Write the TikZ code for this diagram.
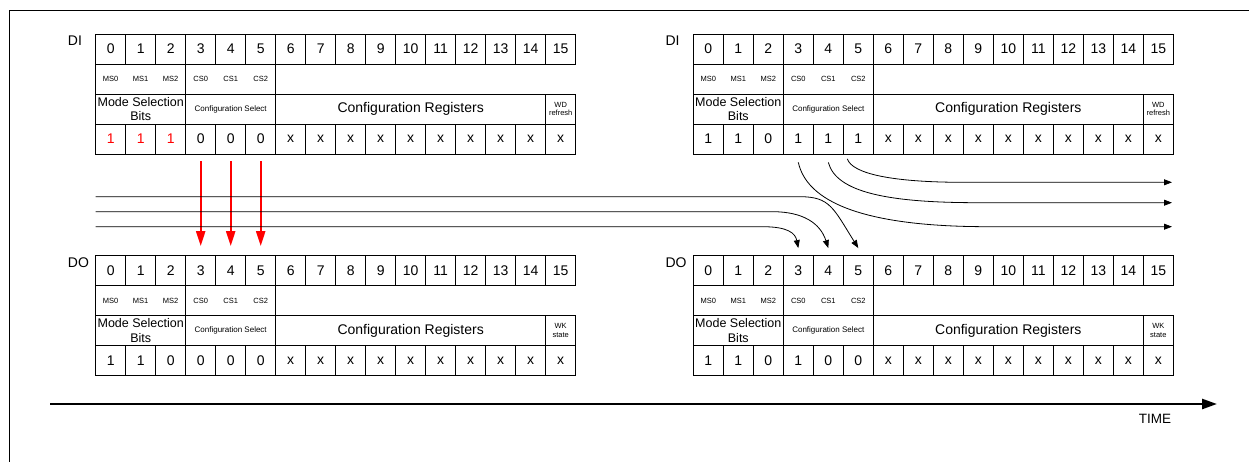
\documentclass[tikz,border=0pt]{standalone}
\usepackage{fontspec}
\setmainfont{Liberation Sans}
\usetikzlibrary{arrows.meta}

% one 16 bit register map: prefix, left x, top y, label, first six values (value/colour), last field
\newcommand{\regmap}[6]{%
  \node[reglabel] (#1-lbl) at (#2-28,#3+7) {#4};
  \foreach \i in {0,...,15}
    \node[bitcell] (#1-n\i) at (#2+30*\i+15,#3+15) {\i};
  \node[fieldbox, minimum width=90pt] (#1-ms) at (#2+45,#3+45) {};
  \node[fieldbox, minimum width=90pt] (#1-cs) at (#2+135,#3+45) {};
  \foreach \lbl [count=\i from 0] in {MS0,MS1,MS2,CS0,CS1,CS2}
    \node[tinytext] (#1-t\i) at (#2+30*\i+15,#3+45) {\lbl};
  \node[fieldbox, minimum width=90pt, font=\fontsize{12.5}{14.5}\selectfont] (#1-mode) at (#2+45,#3+75) {Mode Selection\\Bits};
  \node[fieldbox, minimum width=90pt, font=\fontsize{8}{9}\selectfont] (#1-csel) at (#2+135,#3+75) {Configuration Select};
  \node[fieldbox, minimum width=270pt, font=\fontsize{14}{16}\selectfont] (#1-cfg) at (#2+315,#3+75) {Configuration Registers};
  \node[fieldbox, minimum width=30pt, font=\fontsize{7.5}{8.5}\selectfont] (#1-last) at (#2+465,#3+75) {#6};
  \foreach \val/\col [count=\i from 0] in {#5}
    \node[bitcell, text=\col] (#1-v\i) at (#2+30*\i+15,#3+105) {\val};
  \foreach \i in {6,...,15}
    \node[bitcell] (#1-v\i) at (#2+30*\i+15,#3+105) {x};
}

\begin{document}
\begin{tikzpicture}[
  x=1pt, y=-1pt,
  bitcell/.style={draw, line width=0.8pt, minimum width=30pt, minimum height=30pt, inner sep=0pt, font=\fontsize{14}{16}\selectfont},
  fieldbox/.style={draw, line width=0.8pt, minimum height=30pt, inner sep=0pt, align=center},
  tinytext/.style={inner sep=0pt, font=\fontsize{7.5}{9}\selectfont},
  reglabel/.style={anchor=west, inner sep=0pt, font=\fontsize{14}{16}\selectfont},
  flow/.style={line width=0.8pt, -{Triangle[length=8pt,width=6pt]}},
  redarrow/.style={draw=red, line width=2.2pt, -{Triangle[length=15pt,width=9pt]}, shorten <=7pt, shorten >=9pt},
  timeline/.style={line width=2.5pt, -{Triangle[length=15pt,width=10pt]}}
]

\useasboundingbox (0,0) rectangle (1249,462);
\draw[line width=0.8pt] (9.5,462) -- (9.5,10) -- (1249,10);

\regmap{dil}{95.7}{34}{DI}{1/red,1/red,1/red,0/black,0/black,0/black}{WD\\refresh}
\regmap{dir}{693.3}{34}{DI}{1/black,1/black,0/black,1/black,1/black,1/black}{WD\\refresh}
\regmap{dol}{95.7}{255.5}{DO}{1/black,1/black,0/black,0/black,0/black,0/black}{WK\\state}
\regmap{dor}{693.3}{255.5}{DO}{1/black,1/black,0/black,1/black,0/black,0/black}{WK\\state}

% selected bits copied down
\draw[redarrow] (dil-v3) -- (dol-n3);
\draw[redarrow] (dil-v4) -- (dol-n4);
\draw[redarrow] (dil-v5) -- (dol-n5);

% lines coming in from the left
\coordinate (in1) at (95.7,196.7);
\coordinate (in2) at (95.7,211.7);
\coordinate (in3) at (95.7,226.7);
\draw[flow] (in1) -- ++(704.3,0) .. controls +(30,0) and +(-25,-40) .. ([yshift=7pt]dor-n5.north);
\draw[flow] (in2) -- ++(677,0) .. controls +(30,0) and +(-8,-25) .. ([yshift=7pt]dor-n4.north);
\draw[flow] (in3) -- ++(667,0) .. controls +(25,0) and +(-3,-15) .. ([yshift=7pt]dor-n3.north);

% lines going out to the right
\coordinate (out1) at (1172,182.3);
\coordinate (out2) at (1172,202.7);
\coordinate (out3) at (1172,226.7);
\draw[flow] ([xshift=-11pt,yshift=-4.5pt]dir-v5.south) .. controls +(5,15) and +(-70,0) .. ([xshift=-209pt]out1) -- (out1);
\draw[flow] ([yshift=-8pt]dir-v4.south) .. controls +(8,30) and +(-90,0) .. ([xshift=-194pt]out2) -- (out2);
\draw[flow] ([yshift=-8pt]dir-v3.south) .. controls +(10,45) and +(-110,0) .. ([xshift=-184pt]out3) -- (out3);

% time axis
\coordinate (t0) at (50,404);
\coordinate (t1) at (1217,404);
\draw[timeline] (t0) -- (t1);
\node[inner sep=0pt, font=\fontsize{13.5}{15}\selectfont] (time) at (1155,419) {TIME};

\end{tikzpicture}
\end{document}
